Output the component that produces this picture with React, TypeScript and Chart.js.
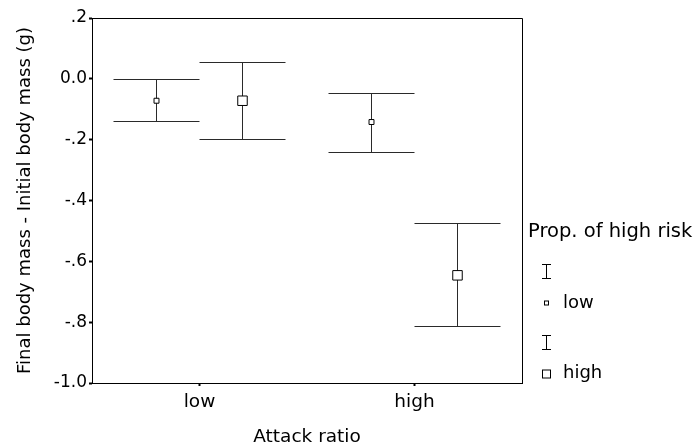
import React, { useEffect, useRef } from 'react';
import { Chart, registerables } from 'chart.js';

Chart.register(...registerables);

// ---- data ----
const categories = ['low', 'high']; // Attack ratio
const seriesNames = ['low', 'high']; // Prop. of high risk
const lowRiskMean = [-0.072, -0.142];
const lowRiskUpper = [-0.002, -0.048];
const lowRiskLower = [-0.141, -0.241];
const highRiskMean = [-0.072, -0.646];
const highRiskUpper = [0.055, -0.474];
const highRiskLower = [-0.198, -0.814];
const yTickValues = [0.2, 0, -0.2, -0.4, -0.6, -0.8, -1.0];
const yTickLabels = ['.2', '0.0', '-.2', '-.4', '-.6', '-.8', '-1.0'];

// ---- style ----
const FONT = "'DejaVu Sans', sans-serif";
const CAP_HALF = 0.2;
const seriesStyle = [
  { offset: -0.2, radius: 3.5 },
  { offset: 0.2, radius: 6.7 },
];
const BAR_COLOR = '#2a2a2a';

const align = (v: number) => Math.round(v - 0.5) + 0.5;

const errorBarPlugin = {
  id: 'errorBars',
  beforeDatasetsDraw(chart: any) {
    const { ctx, scales } = chart;
    const x = scales.x;
    const y = scales.y;
    ctx.save();
    ctx.strokeStyle = BAR_COLOR;
    ctx.lineWidth = 1;
    chart.data.datasets.forEach((ds: any) => {
      ds.data.forEach((p: any, i: number) => {
        const px = align(x.getPixelForValue(p.x));
        const l = x.getPixelForValue(p.x - CAP_HALF);
        const r = x.getPixelForValue(p.x + CAP_HALF);
        const yt = align(y.getPixelForValue(ds.upper[i]));
        const yb = align(y.getPixelForValue(ds.lower[i]));
        ctx.beginPath();
        ctx.moveTo(px, yt);
        ctx.lineTo(px, yb);
        ctx.moveTo(l, yt);
        ctx.lineTo(r, yt);
        ctx.moveTo(l, yb);
        ctx.lineTo(r, yb);
        ctx.stroke();
      });
    });
    ctx.restore();
  },
};

const framePlugin = {
  id: 'frameAndLegend',
  afterDraw(chart: any) {
    const { ctx, chartArea } = chart;
    const { left, right, top, bottom } = chartArea;
    ctx.save();
    // top and right frame
    ctx.strokeStyle = '#000';
    ctx.lineWidth = 1;
    ctx.beginPath();
    ctx.moveTo(left, align(top));
    ctx.lineTo(align(right), align(top));
    ctx.lineTo(align(right), bottom);
    ctx.stroke();

    // legend
    const lx = right + 6;
    const ix = align(right + 24);
    ctx.fillStyle = '#000';
    ctx.textBaseline = 'middle';
    ctx.textAlign = 'left';
    ctx.font = `19.5px ${FONT}`;
    ctx.fillText('Prop. of high risk', lx, 232);

    const drawI = (cy: number) => {
      ctx.strokeStyle = '#000';
      ctx.lineWidth = 1;
      ctx.beginPath();
      ctx.moveTo(ix, cy - 7);
      ctx.lineTo(ix, cy + 7);
      ctx.moveTo(ix - 4.5, align(cy - 7));
      ctx.lineTo(ix + 4.5, align(cy - 7));
      ctx.moveTo(ix - 4.5, align(cy + 7));
      ctx.lineTo(ix + 4.5, align(cy + 7));
      ctx.stroke();
    };
    const drawSq = (cy: number, side: number) => {
      ctx.fillStyle = '#fff';
      ctx.strokeStyle = '#000';
      ctx.lineWidth = 1;
      ctx.fillRect(ix - side / 2, cy - side / 2, side, side);
      ctx.strokeRect(ix - side / 2, cy - side / 2, side, side);
    };
    ctx.font = `18px ${FONT}`;
    drawI(271);
    drawSq(303, 4);
    ctx.fillStyle = '#000';
    ctx.fillText(seriesNames[0], right + 41, 303);
    drawI(342);
    drawSq(374, 8);
    ctx.fillStyle = '#000';
    ctx.fillText(seriesNames[1], right + 41, 373);
    ctx.restore();
  },
};

export default function App() {
  const ref = useRef<HTMLCanvasElement | null>(null);

  useEffect(() => {
    if (!ref.current) return;
    const series = [
      { mean: lowRiskMean, upper: lowRiskUpper, lower: lowRiskLower },
      { mean: highRiskMean, upper: highRiskUpper, lower: highRiskLower },
    ];
    const datasets = series.map((s, k) => ({
      label: seriesNames[k],
      data: categories.map((_, i) => ({ x: i + 0.5 + seriesStyle[k].offset, y: s.mean[i] })),
      upper: s.upper,
      lower: s.lower,
      pointStyle: 'rect',
      pointRadius: seriesStyle[k].radius,
      pointBackgroundColor: '#ffffff',
      pointBorderColor: '#000000',
      pointBorderWidth: 1,
      showLine: false,
    }));

    const chart = new Chart(ref.current, {
      type: 'scatter',
      data: { datasets: datasets as any },
      plugins: [errorBarPlugin, framePlugin],
      options: {
        animation: false,
        responsive: false,
        events: [],
        layout: { padding: { left: 0, right: 173, top: 18, bottom: 0 } },
        plugins: { legend: { display: false }, tooltip: { enabled: false } },
        scales: {
          x: {
            type: 'linear',
            min: 0,
            max: categories.length,
            afterBuildTicks: (scale: any) => {
              scale.ticks = categories.map((_, i) => ({ value: i + 0.5 }));
            },
            afterFit: (scale: any) => {
              scale.height = 65;
            },
            ticks: {
              callback: (_v: any, i: number) => categories[i],
              color: '#000',
              font: { family: FONT, size: 18.5 },
              padding: 5,
              maxRotation: 0,
              autoSkip: false,
            },
            grid: {
              drawOnChartArea: false,
              drawTicks: true,
              tickLength: 3,
              tickWidth: 2,
              tickColor: '#000',
            },
            border: { display: true, color: '#000', width: 1 },
            title: {
              display: true,
              text: 'Attack ratio',
              color: '#000',
              font: { family: FONT, size: 18.5 },
              padding: { top: 0, bottom: 0 },
            },
          },
          y: {
            type: 'linear',
            min: -1.0,
            max: 0.2,
            afterBuildTicks: (scale: any) => {
              scale.ticks = yTickValues.map((v) => ({ value: v }));
            },
            afterFit: (scale: any) => {
              scale.width = 92;
            },
            ticks: {
              callback: (_v: any, i: number) => yTickLabels[i],
              color: '#000',
              font: { family: FONT, size: 17 },
              padding: 2,
              autoSkip: false,
            },
            grid: {
              drawOnChartArea: false,
              drawTicks: true,
              tickLength: 3,
              tickWidth: 2,
              tickColor: '#000',
            },
            border: { display: true, color: '#000', width: 1 },
            title: {
              display: true,
              text: 'Final body mass - Initial body mass (g)',
              color: '#000',
              font: { family: FONT, size: 18 },
              padding: { top: 15, bottom: 0 },
            },
          },
        },
      },
    });
    return () => chart.destroy();
  }, []);

  return (
    <div style={{ position: 'fixed', left: 0, top: 0, width: 695, height: 448, background: '#fff' }}>
      <canvas ref={ref} width={695} height={448} style={{ display: 'block', width: 695, height: 448 }} />
    </div>
  );
}
